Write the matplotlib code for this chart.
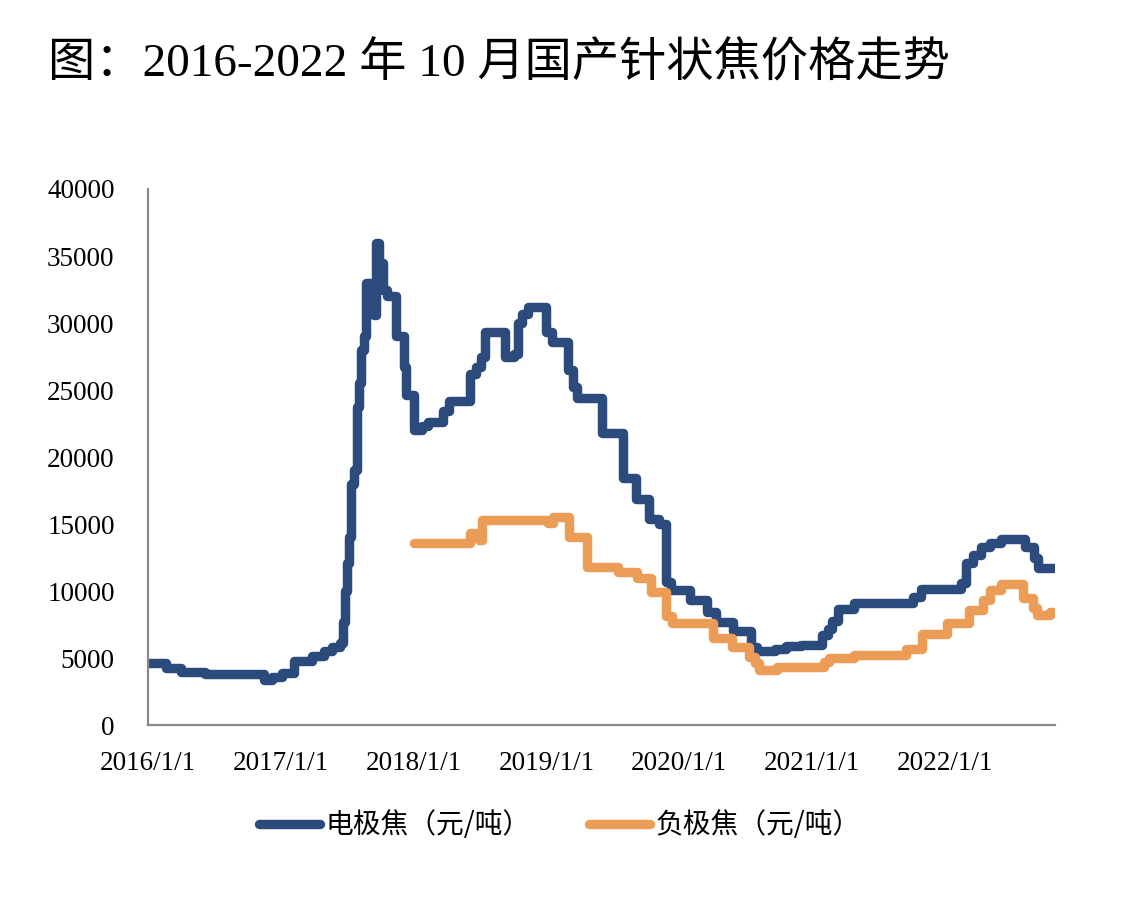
import numpy as np
import pandas as pd
import matplotlib
matplotlib.use("Agg")
import matplotlib.pyplot as plt

plt.rcParams['font.family'] = ['Liberation Serif', 'Noto Sans CJK SC']

# 电极焦 price change points (step series)
electrode_dates = [
    "2016-01-01", "2016-02-20", "2016-04-01", "2016-06-06", "2016-11-15", "2016-12-08",
    "2017-01-05", "2017-02-07", "2017-03-27", "2017-04-29", "2017-05-20", "2017-06-12",
    "2017-06-20", "2017-06-25", "2017-07-01", "2017-07-06", "2017-07-12", "2017-07-20",
    "2017-07-28", "2017-08-03", "2017-08-09", "2017-08-17", "2017-08-22", "2017-09-14",
    "2017-09-19", "2017-09-27", "2017-10-08", "2017-10-19", "2017-11-13", "2017-12-05",
    "2017-12-11", "2018-01-03", "2018-01-25", "2018-02-08", "2018-03-22", "2018-04-08",
    "2018-06-05", "2018-06-21", "2018-07-05", "2018-07-16", "2018-09-10", "2018-10-04",
    "2018-10-15", "2018-10-26", "2018-11-10", "2019-01-01", "2019-01-15", "2019-02-28",
    "2019-03-15", "2019-03-26", "2019-06-03", "2019-07-31", "2019-09-05", "2019-10-10",
    "2019-11-08", "2019-11-27", "2019-12-10", "2020-02-01", "2020-03-18", "2020-04-12",
    "2020-05-29", "2020-07-17", "2020-08-03", "2020-09-22", "2020-10-20", "2020-12-01",
    "2021-01-28", "2021-02-13", "2021-02-25", "2021-03-14", "2021-04-25", "2021-10-05",
    "2021-10-27", "2022-02-15", "2022-02-28", "2022-03-18", "2022-04-09", "2022-05-06",
    "2022-06-03", "2022-08-09", "2022-09-03", "2022-09-14", "2022-10-31",
]
electrode_price = [
    4600, 4250, 3950, 3800, 3350, 3600,
    3850, 4750, 5150, 5500, 5800, 6100,
    7700, 10000, 12100, 14000, 18000, 19000,
    23700, 25500, 28000, 29000, 33000, 30600,
    36000, 34500, 32500, 32000, 29000, 26700,
    24600, 22000, 22300, 22600, 23400, 24200,
    26200, 26700, 27500, 29300, 27500, 27700,
    30000, 30700, 31200, 29300, 28600, 26500,
    25200, 24400, 21800, 18400, 16900, 15400,
    15000, 10700, 10100, 9300, 8400, 7700,
    7000, 5800, 5500, 5700, 5900, 6000,
    6700, 7200, 7800, 8650, 9100, 9550,
    10150, 10600, 12100, 12700, 13300, 13600,
    13900, 13300, 12500, 11700, 11700,
]

# 负极焦 price change points
anode_dates = [
    "2018-01-01", "2018-06-05", "2018-06-29", "2018-07-08", "2019-01-04", "2019-01-20",
    "2019-03-04", "2019-04-23", "2019-07-17", "2019-09-08", "2019-10-16", "2019-11-27",
    "2019-12-13", "2020-04-02", "2020-05-26", "2020-07-10", "2020-07-29", "2020-08-09",
    "2020-09-25", "2021-02-03", "2021-02-16", "2021-04-25", "2021-09-16", "2021-10-29",
    "2022-01-08", "2022-03-07", "2022-04-15", "2022-05-04", "2022-06-03", "2022-08-04",
    "2022-09-01", "2022-09-12", "2022-10-17", "2022-10-31",
]
anode_price = [
    13580, 14300, 13800, 15300, 15100, 15500,
    14000, 11800, 11400, 11000, 9900, 8100,
    7600, 6500, 5800, 5100, 4600, 4100,
    4350, 4700, 5000, 5200, 5700, 6800,
    7600, 8600, 9300, 10050, 10500, 9500,
    8700, 8200, 8450, 8450,
]

tick_dates = ["2016-01-01", "2017-01-01", "2018-01-01", "2019-01-01",
              "2020-01-01", "2021-01-01", "2022-01-01"]
tick_labels = ["2016/1/1", "2017/1/1", "2018/1/1", "2019/1/1",
               "2020/1/1", "2021/1/1", "2022/1/1"]
y_ticks = [0, 5000, 10000, 15000, 20000, 25000, 30000, 35000, 40000]

title = "图：2016-2022 年 10 月国产针状焦价格走势"
series_names = ["电极焦（元/吨）", "负极焦（元/吨）"]

blue = "#2B4B7C"
orange = "#EB9C56"

fig = plt.figure(figsize=(11.26, 9), dpi=100)
ax = fig.add_axes([0.1314, 0.1944, 0.8056, 0.5956])

ax.plot(pd.to_datetime(electrode_dates), electrode_price, drawstyle="steps-post",
        color=blue, lw=6.8, solid_capstyle="round", solid_joinstyle="round",
        label=series_names[0])
ax.plot(pd.to_datetime(anode_dates), anode_price, drawstyle="steps-post",
        color=orange, lw=6.8, solid_capstyle="round", solid_joinstyle="round",
        label=series_names[1])

ax.set_ylim(0, 40000)
ax.set_xlim(pd.Timestamp(electrode_dates[0]), pd.Timestamp(electrode_dates[-1]))
ax.set_yticks(y_ticks)
ax.set_yticklabels([str(v) for v in y_ticks])
ax.set_xticks(pd.to_datetime(tick_dates))
ax.set_xticklabels(tick_labels)
ax.tick_params(axis="y", length=0, pad=24, labelsize=19.5)
ax.tick_params(axis="x", length=0, pad=19, labelsize=19.5)

for side in ["top", "right"]:
    ax.spines[side].set_visible(False)
for side in ["left", "bottom"]:
    ax.spines[side].set_color("#898989")
    ax.spines[side].set_linewidth(1.6)

fig.text(0.0426, 0.929, title, fontsize=34, va="center", ha="left")

fig.legend(loc="center", bbox_to_anchor=(0.497, 0.083), ncol=2, frameon=False,
           prop={"family": ["Noto Sans CJK SC", "DejaVu Sans"], "size": 20},
           handlelength=2.2, handletextpad=0.2, columnspacing=2.1)

fig.savefig("out.png", dpi=100)
